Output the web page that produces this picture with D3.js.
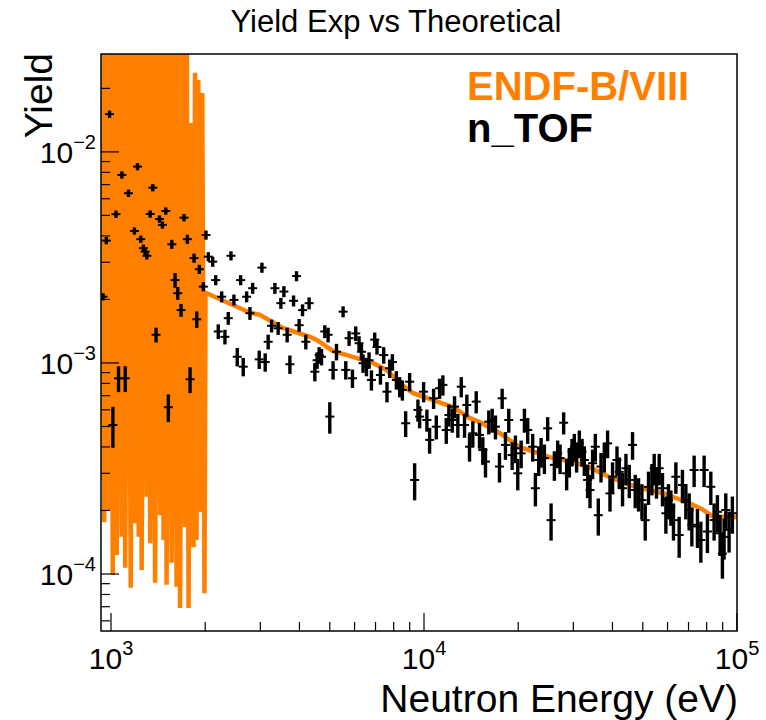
<!DOCTYPE html>
<html>
<head>
<meta charset="utf-8">
<script src="https://cdn.jsdelivr.net/npm/d3@7"></script>
<style>
  body { margin: 0; background: #fff; }
  text { font-family: "Liberation Sans", Arial, Helvetica, sans-serif; }
</style>
</head>
<body>
<div id="chart"></div>
<script>
// ENDF-B/VIII theoretical yield: resonance region (< 2 keV) then smooth part
const endfE = [937, 948, 951, 971, 983, 998, 1013, 1028, 1043, 1062, 1082, 1096, 1110, 1133, 1156, 1175,
  1195, 1210, 1226, 1239, 1253, 1276, 1300, 1317, 1334, 1358, 1383, 1409, 1435, 1454, 1472, 1489, 1505,
  1533, 1562, 1590, 1620, 1641, 1662, 1693, 1724, 1746, 1769, 1802, 1835, 1855, 1876, 1900, 1925, 1957, 1989,
  2004, 2780, 2990, 3540, 4320, 4545, 5110, 5920, 6860, 7600, 8360, 9200, 10650, 12340, 13980, 15040,
  17420, 20180, 25150, 29130, 33730, 39070, 47640, 57660, 70300, 77340, 83230, 100000];
const endfY = [2.79e-4, 0.05, 1.76e-4, 0.05, 2.01e-4, 0.05, 9.9e-5, 0.05, 1.23e-4, 0.05, 1.5e-4, 0.05,
  1.07e-4, 0.05, 8.6e-5, 0.05, 1.74e-4, 0.05, 1.5e-4, 0.05, 1.045e-4, 0.05, 2.32e-4, 0.05, 1.4e-4, 0.05,
  9.1e-5, 0.05, 1.9e-4, 0.05, 1.45e-4, 0.05, 8.9e-5, 0.05, 1.13e-4, 0.05, 8.7e-5, 0.05, 6.9e-5, 0.05,
  1.67e-4, 0.05, 6.9e-5, 0.0137, 1.34e-4, 0.0237, 1.45e-4, 0.0219, 1.97e-4, 0.019, 8.1e-5,
  2.15e-3, 1.73e-3, 1.69e-3, 1.465e-3, 1.33e-3, 1.285e-3, 1.14e-3, 1.068e-3, 1.0e-3, 9.26e-4, 8.04e-4,
  7.21e-4, 6.68e-4, 6.19e-4, 5.49e-4, 5.25e-4, 4.66e-4, 4.0e-4, 3.58e-4, 3.43e-4, 3.21e-4, 2.88e-4,
  2.58e-4, 2.42e-4, 2.17e-4, 2.03e-4, 1.88e-4, 1.86e-4];

// n_TOF measured yield, with relative errors
const tofE = [989, 1037, 966, 943, 1083, 1137, 1215, 1188, 1245, 1269, 1285, 1302, 1360, 1334, 1428, 1460,
  1496, 1564, 1602, 1634, 1674, 1711, 1753, 1842, 1915, 1972, 1879, 2011, 2046, 1393, 1057, 1110, 1014,
  1525, 1789, 2113, 2160, 2257, 2201, 2312, 2417, 2470, 2369, 2531, 2645, 2595, 2712, 2779, 2835, 3035,
  2975, 3109, 3178, 3259, 3339, 3489, 3567, 3420, 3654, 3728, 3830, 3915, 3991, 4092, 4295, 4192, 4479,
  4555, 4623, 4705, 4820, 4938, 5514, 5762, 6052, 6201, 6311, 5253, 5123, 5000, 5624, 5907, 6385, 6547,
  6674, 6792, 6959, 7077, 7257, 7434, 7616, 7769, 7925, 8160, 8361, 8528, 8737, 8998, 9334, 9563, 9683,
  9971, 10215, 10420, 10731, 10945, 11214, 11489, 11779, 12007, 12310, 12520, 12827, 13152, 13474, 13703,
  13978, 14320, 14683, 15044, 15413, 15720, 16106, 16513, 16918, 17423, 17771, 18206, 18654, 19125, 19594,
  19929, 20433, 20934, 21447, 22248, 22693, 23252, 23666, 24245, 24840, 25469, 26093, 26733, 27210, 27938,
  28558, 29132, 29715, 30222, 30734, 31352, 31979, 32525, 33322, 33915, 34567, 35259, 36047, 36770, 37670,
  38594, 39282, 40036, 41354, 42056, 43086, 44176, 45262, 46371, 47299, 48464, 49686, 50909, 52157, 53472,
  54385, 55308, 56419, 57801, 59261, 60408, 61483, 62667, 63778, 65346, 66947, 68638, 70326, 71733, 72956,
  74747, 76640, 78517, 80443, 82479, 84500, 86574, 88310, 89809, 92078, 94342, 96653, 90936];
const tofY = [0.0151, 0.00507, 0.0038, 0.00206, 0.00778, 0.00637, 0.00852, 0.00422, 0.00386, 0.0035,
  0.00337, 0.00322, 0.00677, 0.00508, 0.00481, 0.00451, 0.00525, 0.00365, 0.00247, 0.00214, 0.00178,
  0.00488, 0.00386, 0.00314, 0.00278, 0.0023, 0.00161, 0.00404, 0.00319, 0.00136, 0.000846, 0.000846,
  0.000508, 0.000617, 0.000837, 0.00302, 0.00247, 0.00206, 0.00141, 0.00133, 0.00322, 0.00199, 0.00163,
  0.00107, 0.00096, 0.00247, 0.00206, 0.00172, 0.00226, 0.00283, 0.00104, 0.00101, 0.00126, 0.0015,
  0.00226, 0.00192, 0.00218, 0.00146, 0.00136, 0.000986, 0.00197, 0.00258, 0.00151, 0.00178, 0.00192,
  0.00126, 0.000909, 0.00103, 0.00109, 0.00107, 0.00141, 0.00136, 0.00175, 0.00131, 0.00138, 0.00124,
  0.00113, 0.00113, 0.000927, 0.000557, 0.000927, 0.000846, 0.000997, 0.000961, 0.00103, 0.000831,
  0.00129, 0.00119, 0.000877, 0.00109, 0.000731, 0.000944, 0.00101, 0.000831, 0.000772, 0.000745,
  0.000518, 0.000815, 0.000279, 0.000599, 0.000557, 0.000731, 0.000537, 0.000432, 0.00068, 0.000499,
  0.000759, 0.000787, 0.000481, 0.000567, 0.000537, 0.000621, 0.000508, 0.000772, 0.000508, 0.000632,
  0.000401, 0.000464, 0.000656, 0.000456, 0.000387, 0.000341, 0.000527, 0.000537, 0.000499, 0.000323,
  0.00068, 0.000409, 0.000537, 0.000366, 0.000394, 0.0003, 0.000373, 0.000537, 0.000481, 0.000401,
  0.000255, 0.000347, 0.00038, 0.000354, 0.00049, 0.00018, 0.000329, 0.000373, 0.000354, 0.000521,
  0.0003, 0.000341, 0.00038, 0.000401, 0.00036, 0.000416, 0.00038, 0.000347, 0.000279, 0.00025,
  0.000335, 0.000401, 0.00019, 0.000323, 0.00036, 0.000416, 0.000241, 0.000289, 0.000347, 0.000305,
  0.000255, 0.000317, 0.000279, 0.000409, 0.00025, 0.000241, 0.000224, 0.00018, 0.000259, 0.000284,
  0.000317, 0.000274, 0.000317, 0.000255, 0.000194, 0.000224, 0.000209, 0.00018, 0.000289, 0.000153,
  0.000264, 0.000224, 0.000201, 0.000171, 0.000311, 0.000168, 0.000145, 0.000311, 0.000159, 0.000259,
  0.00018, 0.000197, 0.000156, 0.000125, 0.000201, 0.000162, 0.000194, 0.00015];
const tofErr = [0.04, 0.04, 0.04, 0.04, 0.04, 0.04, 0.04, 0.04, 0.04, 0.04, 0.04, 0.04, 0.04, 0.04, 0.04,
  0.04, 0.04, 0.05, 0.08, 0.07, 0.07, 0.04, 0.05, 0.05, 0.05, 0.05, 0.09, 0.05, 0.05, 0.08, 0.14, 0.14,
  0.22, 0.15, 0.14, 0.055, 0.055, 0.06, 0.08, 0.08, 0.05, 0.06, 0.07, 0.1, 0.1, 0.055, 0.06, 0.07, 0.06,
  0.055, 0.1, 0.1, 0.08, 0.07, 0.06, 0.06, 0.06, 0.07, 0.08, 0.1, 0.06, 0.055, 0.07, 0.065, 0.065, 0.08,
  0.1, 0.09, 0.09, 0.09, 0.07, 0.08, 0.06, 0.08, 0.08, 0.08, 0.09, 0.09, 0.1, 0.17, 0.1, 0.1, 0.1, 0.1,
  0.09, 0.11, 0.08, 0.08, 0.1, 0.09, 0.11, 0.1, 0.09, 0.1, 0.11, 0.11, 0.14, 0.1, 0.2, 0.12, 0.12, 0.11,
  0.12, 0.14, 0.11, 0.13, 0.11, 0.11, 0.14, 0.12, 0.13, 0.12, 0.13, 0.11, 0.13, 0.12, 0.15, 0.14, 0.12,
  0.14, 0.15, 0.16, 0.13, 0.13, 0.13, 0.16, 0.11, 0.15, 0.13, 0.15, 0.15, 0.17, 0.15, 0.13, 0.14, 0.15,
  0.18, 0.16, 0.16, 0.16, 0.13, 0.2, 0.16, 0.15, 0.16, 0.12, 0.17, 0.16, 0.15, 0.15, 0.16, 0.15, 0.15,
  0.16, 0.18, 0.18, 0.16, 0.15, 0.2, 0.16, 0.16, 0.15, 0.18, 0.17, 0.16, 0.17, 0.18, 0.17, 0.18, 0.15,
  0.18, 0.18, 0.19, 0.2, 0.18, 0.17, 0.17, 0.17, 0.17, 0.18, 0.2, 0.19, 0.19, 0.2, 0.17, 0.22, 0.18,
  0.19, 0.2, 0.21, 0.17, 0.21, 0.22, 0.17, 0.21, 0.18, 0.2, 0.2, 0.22, 0.24, 0.2, 0.22, 0.2, 0.22];

// axis decorations
const xMajor = [1e3, 1e4, 1e5];
const xMajorExp = ['3', '4', '5'];
const yMajor = [1e-4, 1e-3, 1e-2];
const yMajorExp = ['\u22124', '\u22123', '\u22122'];

const width = 766, height = 720;
const orange = '#ff8000';

const svg = d3.select('#chart').append('svg')
    .attr('width', width)
    .attr('height', height);

const x = d3.scaleLog().domain([929, 1e5]).range([101, 737]);
const y = d3.scaleLog().domain([5.37e-5, 0.0291]).range([631, 54]);
const [x0, x1] = x.range();
const [y0, y1] = y.range();

svg.append('defs').append('clipPath')
    .attr('id', 'plot-clip')
    .append('rect')
    .attr('x', x0).attr('y', y1)
    .attr('width', x1 - x0).attr('height', y0 - y1);

const plot = svg.append('g').attr('clip-path', 'url(#plot-clip)');

// theory curve
const endf = endfE.map((e, i) => [e, endfY[i]]);
plot.append('path')
    .datum(endf)
    .attr('fill', 'none')
    .attr('stroke', orange)
    .attr('stroke-width', 4.5)
    .attr('d', d3.line().x(d => x(d[0])).y(d => y(d[1])));

// measured points with vertical error bars
const tof = tofE.map((e, i) => ({ e: e, v: tofY[i], err: tofErr[i] }));
const pts = plot.append('g').selectAll('g')
    .data(tof)
    .enter().append('g');

pts.append('line')
    .attr('x1', d => x(d.e)).attr('x2', d => x(d.e))
    .attr('y1', d => y(d.v * (1 + d.err)))
    .attr('y2', d => y(d.v * (1 - d.err)))
    .attr('stroke', '#000')
    .attr('stroke-width', 3.4);

pts.append('line')
    .attr('x1', d => x(d.e) - 4.5).attr('x2', d => x(d.e) + 4.5)
    .attr('y1', d => y(d.v)).attr('y2', d => y(d.v))
    .attr('stroke', '#000')
    .attr('stroke-width', 2);

// ticks
const isMajor = v => Math.abs(Math.log10(v) - Math.round(Math.log10(v))) < 1e-6;
const axes = svg.append('g').attr('stroke', '#000').attr('stroke-width', 1.2);

x.ticks().filter(v => v >= x.domain()[0] && v <= x.domain()[1]).forEach(v => {
    const len = isMajor(v) ? 18 : 9;
    axes.append('line')
        .attr('x1', x(v)).attr('x2', x(v))
        .attr('y1', y0).attr('y2', y0 - len);
});
y.ticks().filter(v => v >= y.domain()[0] && v <= y.domain()[1]).forEach(v => {
    const len = isMajor(v) ? 18 : 9;
    axes.append('line')
        .attr('x1', x0).attr('x2', x0 + len)
        .attr('y1', y(v)).attr('y2', y(v));
});

// frame
svg.append('rect')
    .attr('x', x0).attr('y', y1)
    .attr('width', x1 - x0).attr('height', y0 - y1)
    .attr('fill', 'none')
    .attr('stroke', '#000')
    .attr('stroke-width', 1.5);

// tick labels
xMajor.forEach((v, i) => {
    const t = svg.append('text')
        .attr('x', x(v)).attr('y', 669)
        .attr('text-anchor', 'middle')
        .attr('font-size', 30);
    t.append('tspan').text('10');
    t.append('tspan').attr('dy', -14).attr('font-size', 20).text(xMajorExp[i]);
});
yMajor.forEach((v, i) => {
    const t = svg.append('text')
        .attr('x', 96).attr('y', y(v) + 11)
        .attr('text-anchor', 'end')
        .attr('font-size', 30);
    t.append('tspan').text('10');
    t.append('tspan').attr('dy', -14).attr('font-size', 20).text(yMajorExp[i]);
});

// titles
svg.append('text')
    .attr('x', 396).attr('y', 32)
    .attr('text-anchor', 'middle')
    .attr('font-size', 31)
    .text('Yield Exp vs Theoretical');

svg.append('text')
    .attr('x', 738).attr('y', 712)
    .attr('text-anchor', 'end')
    .attr('font-size', 39)
    .text('Neutron Energy (eV)');

svg.append('text')
    .attr('transform', 'translate(52,53) rotate(-90)')
    .attr('text-anchor', 'end')
    .attr('font-size', 39)
    .text('Yield');

// legend
svg.append('text')
    .attr('x', 467).attr('y', 100)
    .attr('font-size', 40).attr('font-weight', 'bold')
    .attr('fill', orange)
    .text('ENDF-B/VIII');
svg.append('text')
    .attr('x', 467).attr('y', 142)
    .attr('font-size', 40).attr('font-weight', 'bold')
    .attr('fill', '#000')
    .text('n_TOF');
</script>
</body>
</html>
